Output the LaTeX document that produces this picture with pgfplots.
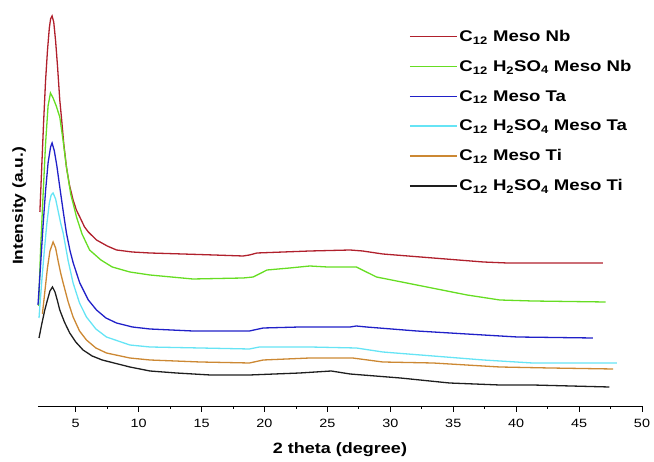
\documentclass[border=0pt]{standalone}
\usepackage{fontspec}
\setmainfont{Liberation Sans}[FakeStretch=1.2]
\usepackage{pgfplots}
\pgfplotsset{compat=1.18}

\definecolor{cNb}{RGB}{176,32,44}
\definecolor{cNbS}{RGB}{102,221,34}
\definecolor{cTa}{RGB}{32,32,200}
\definecolor{cTaS}{RGB}{102,228,245}
\definecolor{cTi}{RGB}{204,136,51}
\definecolor{cTiS}{RGB}{30,30,30}

\begin{document}
\begin{tikzpicture}
\useasboundingbox (-38pt,-56pt) rectangle (616pt,406pt);
\begin{axis}[
    scale only axis,
    width=604pt, height=400pt,
    xmin=2, xmax=50, ymin=0, ymax=400,
    axis x line*=bottom,
    axis y line*=left,
    y axis line style={draw=none},
    x axis line style={-, line width=0.8pt},
    ytick=\empty,
    xtick={5,10,...,50},
    minor x tick num=1,
    xtick align=outside,
    major tick length=6pt, minor tick length=3pt,
    tick style={line width=0.8pt, black},
    ticklabel style={font=\fontsize{12}{14}\selectfont},
    xticklabel style={yshift=-4pt},
    /pgf/number format/assume math mode=true,
    xlabel={\textbf{2 theta (degree)}},
    xlabel style={font=\fontsize{15}{17}\selectfont, yshift=-8pt},
    ylabel={\textbf{Intensity (a.u.)}},
    ylabel style={font=\fontsize{14.5}{16}\selectfont, at={(axis description cs:-0.014,0.5)}, anchor=south},
    clip=false,
    legend cell align=left,
    legend style={draw=none, fill=none, at={(axis description cs:0.614,0.945)}, anchor=north west,
        font=\fontsize{15.5}{17}\bfseries\selectfont, row sep=13.3pt, inner sep=0pt},
    legend image code/.code={\draw[#1, line width=1.4pt] (0pt,0pt) -- (47pt,0pt);},
    every axis plot/.append style={line width=1.3pt},
]
\addplot[cNb] coordinates {
(2.15,194) (2.3,240) (2.45,285) (2.6,325) (2.75,355) (2.9,378) (3.0,387) (3.12,390) (3.25,384) (3.4,365) (3.55,340) (3.73,306) (3.86,289) (4.05,262) (4.26,239) (4.5,221) (4.79,206) (5.05,196) (5.32,189) (5.7,179) (6.0,174) (6.65,166) (7.5,160) (8.24,156) (9.5,154) (10.9,153) (13.5,152) (16,151) (18.3,150) (18.8,151) (19.4,153) (21.5,154) (23.6,155) (26.8,156) (27.8,155) (29.4,152) (33.4,148) (37.4,144) (39.3,143) (43,143) (46.9,143)
};
\addlegendentry{C\textsubscript{12} Meso Nb}
\addplot[cNbS] coordinates {
(2.05,100) (2.2,155) (2.4,210) (2.6,262) (2.8,300) (2.99,313) (3.2,308) (3.45,300) (3.73,289) (4.0,265) (4.26,239) (4.6,212) (5.06,189) (5.5,172) (6.1,156) (7.0,146) (7.9,139) (9.3,134) (10.9,131) (14.3,127) (18.3,128) (19.1,129) (20.2,136) (22.0,138) (23.6,140) (25.0,139) (27.3,139) (28.9,129) (32.1,121) (36.1,111) (38.7,106) (41.3,105) (47.1,104)
};
\addlegendentry{C\textsubscript{12} H\textsubscript{2}SO\textsubscript{4} Meso Nb}
\addplot[cTa] coordinates {
(2.0,101) (2.2,140) (2.4,180) (2.6,215) (2.8,243) (3.0,259) (3.12,263) (3.3,255) (3.5,240) (3.73,219) (4.0,195) (4.26,173) (4.55,155) (4.8,143) (5.32,123) (6.0,106) (6.65,96) (7.4,88) (8.24,83) (9.5,79) (10.9,77) (14.3,75) (18.8,75) (19.9,78) (22.8,79) (26.8,79) (27.3,80) (28.1,79) (32.1,75) (37.4,71) (40.1,69) (46.1,68)
};
\addlegendentry{C\textsubscript{12} Meso Ta}
\addplot[cTaS] coordinates {
(2.08,88) (2.3,125) (2.5,155) (2.7,182) (2.9,203) (3.05,211) (3.2,213) (3.4,207) (3.6,195) (3.8,183) (4.0,173) (4.4,145) (4.79,123) (5.3,103) (5.85,89) (6.6,77) (7.44,69) (9.3,61) (10.9,59) (14.9,58) (18.8,57) (19.6,59) (21.5,59) (23.6,59) (27.3,58) (29.4,54) (33.4,50) (37.4,46) (41.3,43) (48.0,43)
};
\addlegendentry{C\textsubscript{12} H\textsubscript{2}SO\textsubscript{4} Meso Ta}
\addplot[cTi] coordinates {
(2.35,92) (2.55,115) (2.75,138) (2.95,155) (3.2,164) (3.4,158) (3.6,145) (3.8,133) (4.0,123) (4.4,104) (4.79,89) (5.3,75) (5.85,66) (6.6,58) (7.44,53) (9.3,48) (10.9,46) (14.9,44) (18.8,43) (19.9,46) (23.6,48) (27.0,48) (29.4,44) (33.4,43) (38.7,39) (42.7,38) (47.7,37)
};
\addlegendentry{C\textsubscript{12} Meso Ti}
\addplot[cTiS] coordinates {
(2.08,68) (2.3,82) (2.54,96) (2.75,106) (2.95,115) (3.15,119) (3.35,114) (3.55,105) (3.73,96) (4.1,84) (4.52,73) (5.0,64) (5.58,56) (6.3,50) (7.1,46) (9.3,39) (10.9,35) (13,33) (15.7,31) (18.8,31) (22.8,33) (25.3,35) (26.8,32) (30.8,28) (34.7,23) (38.7,21) (41.3,21) (47.4,19)
};
\addlegendentry{C\textsubscript{12} H\textsubscript{2}SO\textsubscript{4} Meso Ti}
\end{axis}
\end{tikzpicture}
\end{document}
